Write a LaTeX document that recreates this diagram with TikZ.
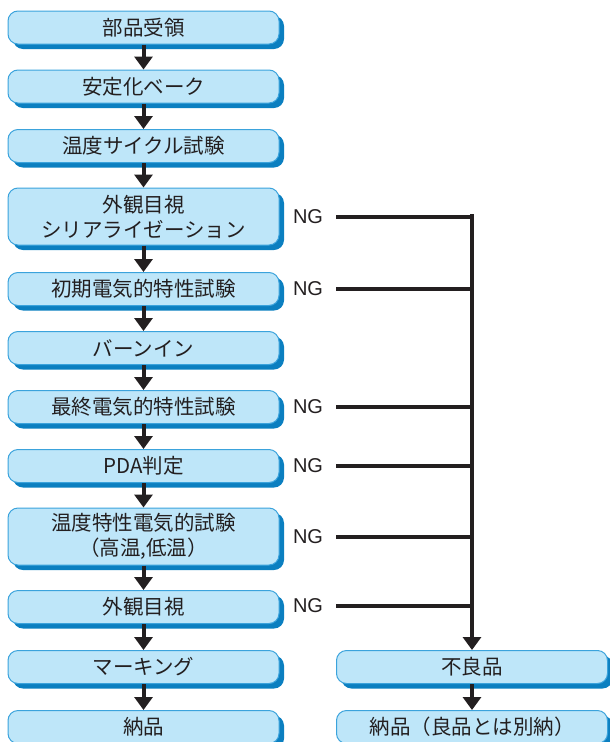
\documentclass[tikz,border=0pt]{standalone}
\usepackage{fontspec}
\setmainfont{Noto Sans CJK JP}
\newfontfamily\latinsans{Liberation Sans}
\usetikzlibrary{arrows.meta}
\usetikzlibrary{shadows}
\definecolor{boxfill}{HTML}{BEE6F9}
\definecolor{boxline}{HTML}{3BA3DC}
\definecolor{boxshade}{HTML}{0B7FC0}
\definecolor{ink}{HTML}{231F20}

\tikzset{
  proc/.style={draw=boxline, line width=1pt, fill=boxfill, rounded corners=10pt,
    minimum width=271pt, minimum height=33pt, align=center, text=ink,
    font=\fontsize{20.5}{25}\selectfont,
    general shadow={fill=boxshade, shadow xshift=5pt, shadow yshift=-5pt}},
  tall/.style={minimum height=57pt},
  ng/.style={text=ink, font=\latinsans\fontsize{20}{25}\selectfont, inner xsep=13pt},
  flow/.style={draw=ink, line width=4pt, -{Triangle[width=18pt,length=13pt]}},
  reject/.style={draw=ink, line width=3.5pt},
}

\begin{document}
\begin{tikzpicture}[x=1pt,y=-1pt]

\useasboundingbox (0,0) rectangle (610,742);

% main flow
\node[proc] (recv) at (143.5,27.5) {部品受領};
\node[proc] (bake) at (143.5,86.5) {安定化ベーク};
\node[proc] (cycle) at (143.5,146) {温度サイクル試験};
\node[proc,tall] (look1) at (143.5,216.5) {外観目視\\シリアライゼーション};
\node[proc] (init) at (143.5,289) {初期電気的特性試験};
\node[proc] (burn) at (143.5,348) {バーンイン};
\node[proc] (final) at (143.5,407) {最終電気的特性試験};
\node[proc] (pda) at (143.5,466) {PDA判定};
\node[proc,tall] (temp) at (143.5,536.5) {温度特性電気的試験\\（高温,低温）};
\node[proc] (look2) at (143.5,607) {外観目視};
\node[proc] (mark) at (143.5,667) {マーキング};
\node[proc] (ship) at (143.5,727) {納品};

% reject side
\node[proc] (bad) at (472,667) {不良品};
\node[proc] (badship) at (472,727) {納品（良品とは別納）};

\draw[flow] (recv) -- (bake);
\draw[flow] (bake) -- (cycle);
\draw[flow] (cycle) -- (look1);
\draw[flow] (look1) -- (init);
\draw[flow] (init) -- (burn);
\draw[flow] (burn) -- (final);
\draw[flow] (final) -- (pda);
\draw[flow] (pda) -- (temp);
\draw[flow] (temp) -- (look2);
\draw[flow] (look2) -- (mark);
\draw[flow] (mark) -- (ship);
\draw[flow] (bad) -- (badship);

% NG
\node[ng] (ng1) at (308,217) {NG};
\node[ng] (ng2) at (308,289) {NG};
\node[ng] (ng3) at (308,407) {NG};
\node[ng] (ng4) at (308,466) {NG};
\node[ng] (ng5) at (308,537) {NG};
\node[ng] (ng6) at (308,606) {NG};

\coordinate (j1) at (472,217);
\draw[reject] (ng1) -- (j1);
\draw[reject] (ng2) -- (ng2 -| j1);
\draw[reject] (ng3) -- (ng3 -| j1);
\draw[reject] (ng4) -- (ng4 -| j1);
\draw[reject] (ng5) -- (ng5 -| j1);
\draw[reject] (ng6) -- (ng6 -| j1);
\draw[reject,line cap=rect] ([yshift=1.75pt]j1) -- (j1);
\draw[flow,line width=3.5pt] ([yshift=-1.75pt]j1) -- (bad);

\end{tikzpicture}
\end{document}
